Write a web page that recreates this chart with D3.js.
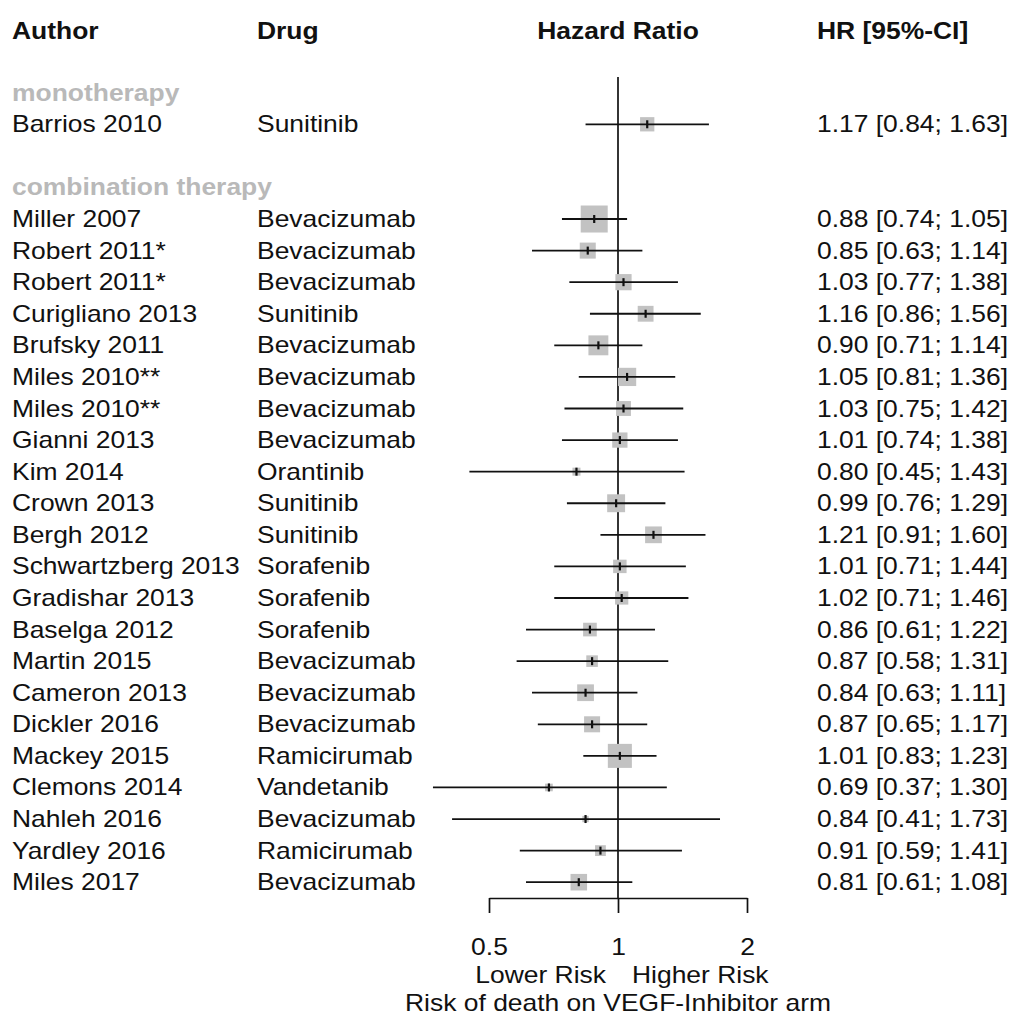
<!DOCTYPE html>
<html>
<head>
<meta charset="utf-8">
<script src="https://cdn.jsdelivr.net/npm/d3@7"></script>
<style>
  body { margin: 0; background: #fff; }
  text { font-family: "Liberation Sans", Arial, sans-serif; }
</style>
</head>
<body>
<div id="chart"></div>
<script>
// study data
const authors = ["Barrios 2010",
  "Miller 2007", "Robert 2011*", "Robert 2011*", "Curigliano 2013", "Brufsky 2011",
  "Miles 2010**", "Miles 2010**", "Gianni 2013", "Kim 2014", "Crown 2013", "Bergh 2012",
  "Schwartzberg 2013", "Gradishar 2013", "Baselga 2012", "Martin 2015", "Cameron 2013",
  "Dickler 2016", "Mackey 2015", "Clemons 2014", "Nahleh 2016", "Yardley 2016", "Miles 2017"];
const drugs = ["Sunitinib",
  "Bevacizumab", "Bevacizumab", "Bevacizumab", "Sunitinib", "Bevacizumab",
  "Bevacizumab", "Bevacizumab", "Bevacizumab", "Orantinib", "Sunitinib", "Sunitinib",
  "Sorafenib", "Sorafenib", "Sorafenib", "Bevacizumab", "Bevacizumab",
  "Bevacizumab", "Ramicirumab", "Vandetanib", "Bevacizumab", "Ramicirumab", "Bevacizumab"];
const hr =    [1.17, 0.88, 0.85, 1.03, 1.16, 0.90, 1.05, 1.03, 1.01, 0.80, 0.99, 1.21, 1.01, 1.02, 0.86, 0.87, 0.84, 0.87, 1.01, 0.69, 0.84, 0.91, 0.81];
const lower = [0.84, 0.74, 0.63, 0.77, 0.86, 0.71, 0.81, 0.75, 0.74, 0.45, 0.76, 0.91, 0.71, 0.71, 0.61, 0.58, 0.63, 0.65, 0.83, 0.37, 0.41, 0.59, 0.61];
const upper = [1.63, 1.05, 1.14, 1.38, 1.56, 1.14, 1.36, 1.42, 1.38, 1.43, 1.29, 1.60, 1.44, 1.46, 1.22, 1.31, 1.11, 1.17, 1.23, 1.30, 1.73, 1.41, 1.08];
const weights = [3.5, 12.5, 4.4, 4.5, 4.3, 6.8, 5.7, 3.8, 4.0, 1.1, 5.5, 4.8, 3.1, 3.0, 3.2, 2.3, 4.8, 4.4, 9.9, 1.0, 0.7, 2.0, 4.7];
const groups = ["monotherapy", "combination therapy"];
const groupOf = [0, 1, 1, 1, 1, 1, 1, 1, 1, 1, 1, 1, 1, 1, 1, 1, 1, 1, 1, 1, 1, 1, 1];
const tickValues = [0.5, 1, 2];
const axisLabels = ["Lower Risk", "Higher Risk"];
const axisTitle = "Risk of death on VEGF-Inhibitor arm";
const headers = ["Author", "Drug", "Hazard Ratio", "HR [95%-CI]"];

const width = 1011, height = 1018;
const fs = 23, sx = 1.15;   // text looks a bit wide
const ink = "#111";

const svg = d3.select("#chart").append("svg")
    .attr("width", width)
    .attr("height", height);

// row index -> y (group labels take a line, blank line between groups)
const rows = [];
let line = 0;
groups.forEach((g, gi) => {
    if (gi > 0) line++;
    rows.push({type: "group", label: g, line: line++});
    groupOf.forEach((k, i) => {
        if (k === gi) rows.push({type: "study", i: i, line: line++});
    });
});

const yScale = d3.scaleLinear().domain([0, 1]).range([92.7, 92.7 + 31.58]);
const xScale = d3.scaleLog().domain([0.5, 2]).range([489, 747]);
const boxSize = d3.scaleSqrt().domain([0, d3.max(weights)]).range([0, 27]);

function label(x, y, str, opts = {}) {
    return svg.append("text")
        .attr("transform", `translate(${x},${y}) scale(${sx},1)`)
        .attr("text-anchor", opts.anchor || "start")
        .attr("font-size", fs)
        .attr("font-weight", opts.bold ? "bold" : "normal")
        .attr("fill", opts.color || ink)
        .text(str);
}

// headers
label(12, 39, headers[0], {bold: true});
label(257, 39, headers[1], {bold: true});
label(618, 39, headers[2], {bold: true, anchor: "middle"});
label(817, 39, headers[3], {bold: true});

// reference line at HR = 1
svg.append("line")
    .attr("x1", xScale(1)).attr("x2", xScale(1))
    .attr("y1", 77).attr("y2", 898)
    .attr("stroke", ink).attr("stroke-width", 1.7);

const fmt = d3.format(".2f");

rows.forEach(r => {
    const y = yScale(r.line);
    if (r.type === "group") {
        label(12, y + 8, r.label, {bold: true, color: "#b9b9b9"});
        return;
    }
    const i = r.i;
    label(12, y + 8, authors[i]);
    label(257, y + 8, drugs[i]);
    label(817, y + 8, `${fmt(hr[i])} [${fmt(lower[i])}; ${fmt(upper[i])}]`);

    const s = boxSize(weights[i]);
    svg.append("rect")
        .attr("x", xScale(hr[i]) - s / 2)
        .attr("y", y - s / 2)
        .attr("width", s).attr("height", s)
        .attr("fill", "#c2c2c2");
    svg.append("line")
        .attr("x1", xScale(lower[i])).attr("x2", xScale(upper[i]))
        .attr("y1", y).attr("y2", y)
        .attr("stroke", ink).attr("stroke-width", 1.8);
    svg.append("line")
        .attr("x1", xScale(hr[i])).attr("x2", xScale(hr[i]))
        .attr("y1", y - 4).attr("y2", y + 4)
        .attr("stroke", ink).attr("stroke-width", 2.2);
});

// x axis
const axis = svg.append("g")
    .attr("transform", "translate(0,898)")
    .call(d3.axisBottom(xScale)
        .tickValues(tickValues)
        .tickFormat(d3.format("~g"))
        .tickSize(15)
        .tickSizeOuter(0)
        .tickPadding(26));
axis.select(".domain").attr("stroke", ink).attr("stroke-width", 1.7);
axis.selectAll(".tick line").attr("stroke", ink).attr("stroke-width", 1.7);
axis.selectAll(".tick text")
    .attr("font-size", fs)
    .attr("font-family", "Liberation Sans, Arial, sans-serif")
    .attr("fill", ink)
    .attr("transform", `scale(${sx},1)`);

label(606, 983, axisLabels[0], {anchor: "end"});
label(632, 983, axisLabels[1]);
label(618, 1011, axisTitle, {anchor: "middle"});
</script>
</body>
</html>
